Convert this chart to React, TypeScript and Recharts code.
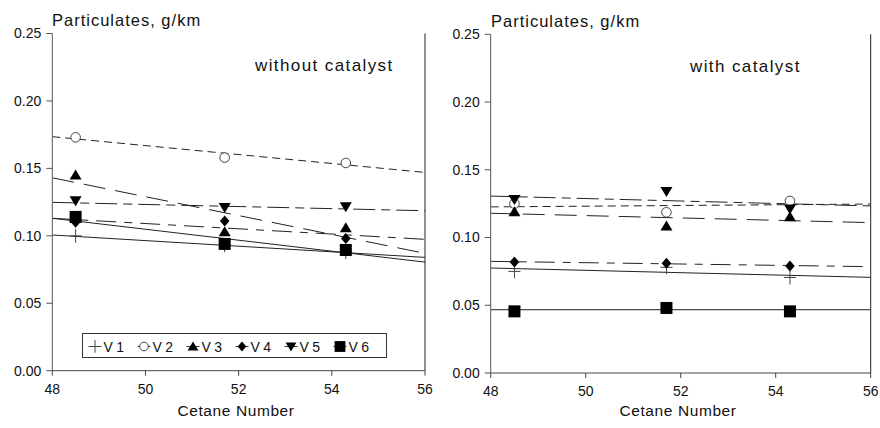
import React from 'react';
import { ComposedChart, Line, XAxis, YAxis, ReferenceLine, Legend } from 'recharts';

const FONT = '"Liberation Sans", Arial, Helvetica, sans-serif';

// x positions of measurements (cetane number) and trend line extent
const cetaneNumbers = [48.5, 51.7, 54.3];
const trendEnds = [48, 56];
const xTicks = [48, 50, 52, 54, 56];
const yTicks = [0, 0.05, 0.1, 0.15, 0.2, 0.25];
const seriesNames = ['V 1', 'V 2', 'V 3', 'V 4', 'V 5', 'V 6'];

// without catalyst: measured points
const noCatV1 = [0.1, 0.093, 0.088];
const noCatV2 = [0.173, 0.158, 0.154];
const noCatV3 = [0.145, 0.103, 0.106];
const noCatV4 = [0.11, 0.111, 0.098];
const noCatV5 = [0.126, 0.121, 0.1215];
const noCatV6 = [0.114, 0.094, 0.0895];
// without catalyst: trend line values at x=48 and x=56
const noCatTrendV1 = [0.1006, 0.084];
const noCatTrendV2 = [0.1735, 0.147];
const noCatTrendV3 = [0.143, 0.087];
const noCatTrendV4 = [0.113, 0.0974];
const noCatTrendV5 = [0.1248, 0.1186];
const noCatTrendV6 = [0.113, 0.0805];

// with catalyst: measured points
const catV1 = [0.075, 0.078, 0.0705];
const catV2 = [0.125, 0.1186, 0.127];
const catV3 = [0.119, 0.1085, 0.1154];
const catV4 = [0.082, 0.081, 0.079];
const catV5 = [0.128, 0.134, 0.121];
const catV6 = [0.0455, 0.048, 0.0455];
// with catalyst: trend line values at x=48 and x=56
const catTrendV1 = [0.0775, 0.0706];
const catTrendV2 = [0.1226, 0.1247];
const catTrendV3 = [0.1179, 0.111];
const catTrendV4 = [0.0824, 0.0785];
const catTrendV5 = [0.1306, 0.1233];
const catTrendV6 = [0.0467, 0.0467];

type Kind = 'plus' | 'circle' | 'up' | 'diamond' | 'down' | 'square';
const markerKinds: Kind[] = ['plus', 'circle', 'up', 'diamond', 'down', 'square'];
const dashes: (string | undefined)[] = [undefined, '8 5', '22 10', '20 8 8 8', '22 6 9 6', undefined];

const toPoints = (xs: number[], ys: number[]) => xs.map((x, i) => ({ x, y: ys[i] }));

function Marker({ kind, cx, cy, s = 1 }: { kind: Kind; cx: number; cy: number; s?: number }) {
  switch (kind) {
    case 'plus':
      return (
        <g stroke="#444" strokeWidth={1}>
          <line x1={cx - 6 * s} x2={cx + 6 * s} y1={cy} y2={cy} />
          <line x1={cx} x2={cx} y1={cy - 7 * s} y2={cy + 7 * s} />
        </g>
      );
    case 'circle':
      return <circle cx={cx} cy={cy} r={4.8 * s} fill="#fff" stroke="#444" strokeWidth={1} />;
    case 'up':
      return <path d={`M${cx},${cy - 5.5 * s}L${cx + 6 * s},${cy + 4.5 * s}L${cx - 6 * s},${cy + 4.5 * s}Z`} fill="#000" />;
    case 'down':
      return <path d={`M${cx - 6 * s},${cy - 4.5 * s}L${cx + 6 * s},${cy - 4.5 * s}L${cx},${cy + 5.5 * s}Z`} fill="#000" />;
    case 'diamond':
      return <path d={`M${cx},${cy - 5.5 * s}L${cx + 4.8 * s},${cy}L${cx},${cy + 5.5 * s}L${cx - 4.8 * s},${cy}Z`} fill="#000" />;
    case 'square':
      return <rect x={cx - 6 * s} y={cy - 6 * s} width={12 * s} height={12 * s} fill="#000" />;
  }
  return null;
}

const renderLegend = () => (
  <svg width={305} height={25} style={{ display: 'block' }}>
    {seriesNames.map((name, i) => {
      const cx = 12 + i * 49;
      const cy = 12.5;
      return (
        <g key={name}>
          <line x1={cx - 6.5} x2={cx + 6.5} y1={cy} y2={cy} stroke="#333" strokeWidth={1} />
          <Marker kind={markerKinds[i]} cx={cx} cy={cy} s={0.9} />
          <text x={cx + 8.5} y={cy + 5} style={{ fontSize: 14, fontFamily: FONT }} fill="#111" letterSpacing={-0.3}>
            {name}
          </text>
        </g>
      );
    })}
  </svg>
);

const tickStyle = { fill: '#111', fontSize: 14, fontFamily: FONT };

function Panel({
  points,
  trends,
  margin,
  withLegend,
}: {
  points: number[][];
  trends: number[][];
  margin: { top: number; right: number; bottom: number; left: number };
  withLegend: boolean;
}) {
  return (
    <ComposedChart width={440} height={428} margin={margin} style={{ fontFamily: FONT }}>
      <XAxis
        type="number"
        dataKey="x"
        domain={[48, 56]}
        ticks={xTicks}
        allowDataOverflow
        height={30}
        tickSize={5}
        tickMargin={8}
        fontSize={14}
        axisLine={{ stroke: '#444' }}
        tickLine={{ stroke: '#444' }}
        tick={tickStyle}
      />
      <YAxis
        type="number"
        dataKey="y"
        domain={[0, 0.25]}
        ticks={yTicks}
        width={40}
        tickSize={6}
        tickMargin={5}
        fontSize={14}
        tickFormatter={(v: number) => v.toFixed(2)}
        axisLine={{ stroke: '#555' }}
        tickLine={{ stroke: '#555' }}
        tick={tickStyle}
      />
      <ReferenceLine x={56} stroke="#222" strokeWidth={1} />
      {trends.map((t, i) => (
        <Line
          key={`t${i}`}
          data={toPoints(trendEnds, t)}
          dataKey="y"
          type="linear"
          stroke="#222"
          strokeWidth={1}
          strokeDasharray={dashes[i]}
          dot={false}
          activeDot={false}
          legendType="none"
          isAnimationActive={false}
        />
      ))}
      {points.map((p, i) => (
        <Line
          key={`p${i}`}
          name={seriesNames[i]}
          data={toPoints(cetaneNumbers, p)}
          dataKey="y"
          stroke="none"
          strokeWidth={0}
          dot={(props: any) => (
            <Marker key={`m${i}-${props.index}`} kind={markerKinds[i]} cx={props.cx} cy={props.cy} />
          )}
          activeDot={false}
          isAnimationActive={false}
        />
      ))}
      {withLegend && (
        <Legend
          layout="horizontal"
          verticalAlign="middle"
          align="center"
          content={renderLegend}
          wrapperStyle={{
            position: 'absolute',
            left: 82,
            top: 332.5,
            width: 305,
            height: 25,
            border: '1px solid #333',
            boxSizing: 'border-box',
            background: '#fff',
            margin: 0,
          }}
        />
      )}
    </ComposedChart>
  );
}

export default function App() {
  const noCatPoints = [noCatV1, noCatV2, noCatV3, noCatV4, noCatV5, noCatV6];
  const noCatTrends = [noCatTrendV1, noCatTrendV2, noCatTrendV3, noCatTrendV4, noCatTrendV5, noCatTrendV6];
  const catPoints = [catV1, catV2, catV3, catV4, catV5, catV6];
  const catTrends = [catTrendV1, catTrendV2, catTrendV3, catTrendV4, catTrendV5, catTrendV6];
  return (
    <div style={{ position: 'absolute', left: 0, top: 0, width: 880, height: 428, background: '#fff', fontFamily: FONT }}>
      <div style={{ position: 'absolute', left: 0, top: 0 }}>
        <Panel
          points={noCatPoints}
          trends={noCatTrends}
          margin={{ top: 33.5, right: 15, bottom: 27.3, left: 12.3 }}
          withLegend
        />
      </div>
      <div style={{ position: 'absolute', left: 440, top: 0 }}>
        <Panel
          points={catPoints}
          trends={catTrends}
          margin={{ top: 34.3, right: 9.3, bottom: 25, left: 10.7 }}
          withLegend={false}
        />
      </div>
      <svg
        width={880}
        height={428}
        style={{ position: 'absolute', left: 0, top: 0, pointerEvents: 'none' }}
        fontFamily={FONT}
        fill="#111"
      >
        <text x={52} y={26} fontSize={16.5} letterSpacing={1}>Particulates, g/km</text>
        <text x={491} y={26.5} fontSize={16.5} letterSpacing={1}>Particulates, g/km</text>
        <text x={255} y={71} fontSize={17} letterSpacing={1.4}>without catalyst</text>
        <text x={690} y={71.5} fontSize={17} letterSpacing={1.4}>with catalyst</text>
        <text x={236} y={416} fontSize={15.5} textAnchor="middle" letterSpacing={0.6}>Cetane Number</text>
        <text x={678} y={416} fontSize={15.5} textAnchor="middle" letterSpacing={0.6}>Cetane Number</text>
      </svg>
    </div>
  );
}
